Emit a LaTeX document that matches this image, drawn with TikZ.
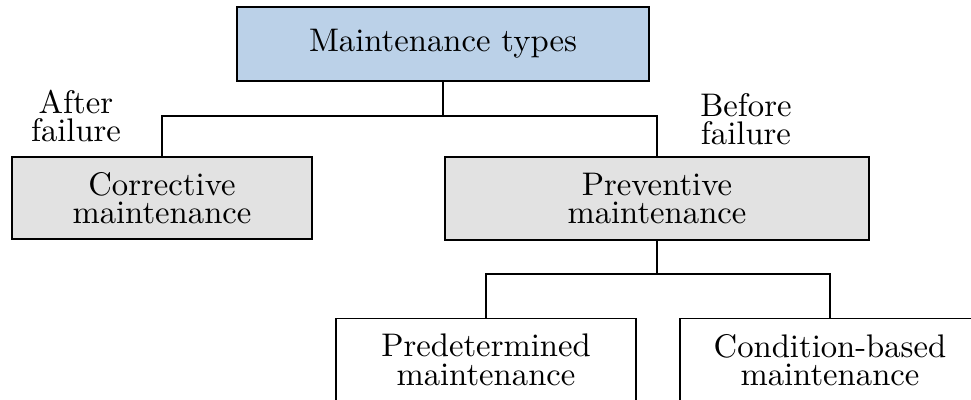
\documentclass[tikz,border=0pt]{standalone}
\usetikzlibrary{positioning}
\definecolor{topblue}{HTML}{BBD1E8}
\definecolor{midgray}{HTML}{E2E2E2}
\tikzset{
  box/.style={draw=black, line width=0.6pt, inner sep=0pt, align=center,
    font=\fontsize{10}{8.7}\selectfont},
  topbox/.style={box, fill=topblue, minimum width=125.8pt, minimum height=22.6pt},
  midbox/.style={box, fill=midgray, minimum height=25.2pt},
  leafbox/.style={box, fill=white, minimum width=91.8pt, minimum height=25.4pt},
  tag/.style={align=center, inner sep=0pt, font=\fontsize{10}{8.7}\selectfont},
  link/.style={draw=black, line width=0.6pt}
}
\begin{document}
\begin{tikzpicture}[x=0.306pt, y=-0.306pt]
  \useasboundingbox (0,0) rectangle (971,400);
  \clip (0,0) rectangle (971,400);

  % tree nodes
  \node[topbox] (types) at (443,44) {Maintenance types};
  \node[midbox, minimum width=91.8pt] (corr) at (162,198) {Corrective\\maintenance};
  \node[midbox, minimum width=129.7pt] (prev) at (657,198.5) {Preventive\\maintenance};
  \node[leafbox] (pred) at (486,360) {Predetermined\\maintenance};
  \node[leafbox] (cond) at (830,360) {Condition-based\\maintenance};

  % branch labels
  \node[tag] (after) at (76,116) {After\\failure};
  \node[tag] (before) at (746,119) {Before\\failure};

  % connectors
  \coordinate (j1) at (443,116);
  \coordinate (j2) at (657,274);
  \draw[link] (types.south) -- (j1);
  \draw[link] (j1) -| (corr.north);
  \draw[link] (j1) -| (prev.north);
  \draw[link] (prev.south) -- (j2);
  \draw[link] (j2) -| (pred.north);
  \draw[link] (j2) -| (cond.north);
\end{tikzpicture}
\end{document}
